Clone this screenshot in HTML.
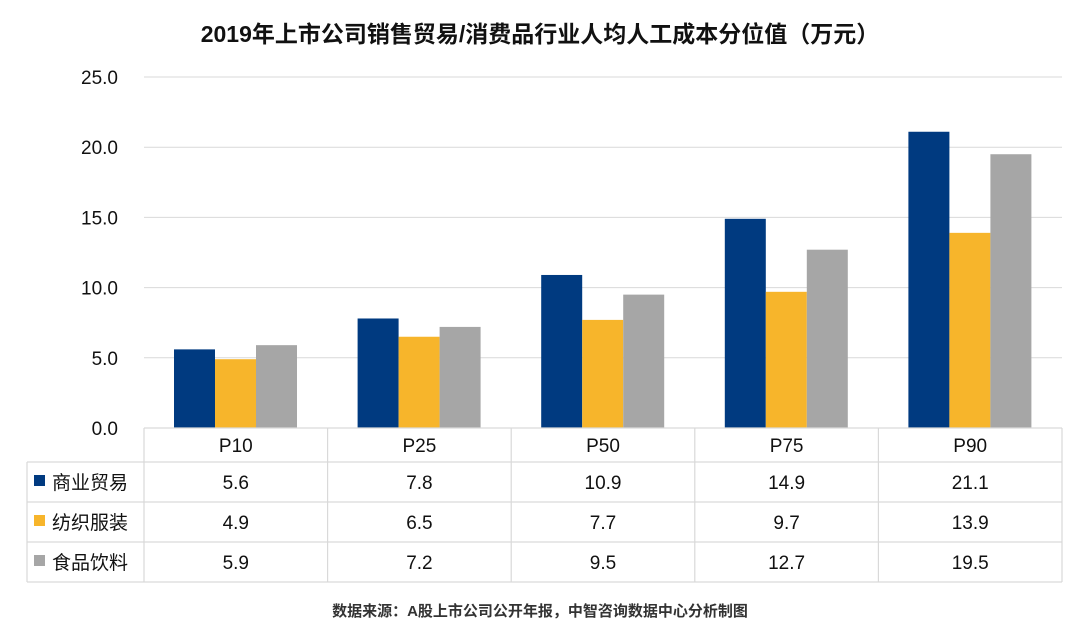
<!DOCTYPE html>
<html><head><meta charset="utf-8"><style>
body{margin:0;background:#fff;}
svg text{font-family:"Liberation Sans","Noto Sans CJK SC",sans-serif;}
</style></head><body>
<svg width="1080" height="635" viewBox="0 0 1080 635">
<text x="540" y="42" text-anchor="middle" font-size="23" font-weight="bold" fill="#111">2019年上市公司销售贸易/消费品行业人均人工成本分位值（万元）</text>
<g id="grid"></g><g id="bars"></g><g id="table"></g>
<text x="540" y="616" text-anchor="middle" font-size="15" font-weight="bold" fill="#333">数据来源：A股上市公司公开年报，中智咨询数据中心分析制图</text>
</svg>
<script>
const categories=["P10","P25","P50","P75","P90"];
const seriesNames=["商业贸易","纺织服装","食品饮料"];
const trade=[5.6,7.8,10.9,14.9,21.1];
const textile=[4.9,6.5,7.7,9.7,13.9];
const food=[5.9,7.2,9.5,12.7,19.5];
const ticks=[0,5,10,15,20,25];
const colors=["#003a80","#f7b52b","#a6a6a6"];
const series=[trade,textile,food];
const NS="http://www.w3.org/2000/svg";
const x0=144,x1=1062,y0=428,y1=77,ymax=25;
const cw=(x1-x0)/categories.length;
const yS=v=>y0-(v/ymax)*(y0-y1);
function mk(t,a,p){const e=document.createElementNS(NS,t);for(const k in a)e.setAttribute(k,a[k]);p.appendChild(e);return e;}
const g=document.getElementById('grid'),b=document.getElementById('bars'),tb=document.getElementById('table');
ticks.forEach(t=>{
 const l=mk('line',{x1:x0,x2:x1,y1:yS(t),y2:yS(t),stroke:'#d9d9d9','stroke-width':1},g);
 
 
 const tx=mk('text',{x:118,y:yS(t)+7,'text-anchor':'end','font-size':19,fill:'#111'},g);
 tx.textContent=t.toFixed(1);
 
 
});
series.forEach((s,si)=>{
 s.forEach((v,ci)=>{
  const r=mk('rect',{x:x0+ci*cw+30+si*41,y:yS(v),width:41,height:y0-yS(v),fill:colors[si]},b);
  
  
 });
});
const rowY=[428,462,502,542,582];
const ln=(a,c,d,e)=>{const l=mk('line',{x1:a,y1:c,x2:d,y2:e,stroke:'#d9d9d9','stroke-width':1.2},tb);
 
 };
ln(x0,428,x1,428);
for(let i=1;i<5;i++)ln(27,rowY[i],x1,rowY[i]);
ln(27,462,27,582);
for(let c=0;c<=categories.length;c++)ln(x0+c*cw,428,x0+c*cw,582);
categories.forEach((c,ci)=>{
 const t=mk('text',{x:x0+ci*cw+cw/2,y:452,'text-anchor':'middle','font-size':19,fill:'#111'},tb);
 t.textContent=c;
 
 
});
series.forEach((s,si)=>{
 const cy=(rowY[si+1]+rowY[si+2])/2;
 const sq=mk('rect',{x:34,y:cy-7,width:11,height:11,fill:colors[si]},tb);
 
 
 const nt=mk('text',{x:52,y:cy+7,'font-size':19,fill:'#111'},tb);
 nt.textContent=seriesNames[si];
 
 
 s.forEach((v,ci)=>{
  const t=mk('text',{x:x0+ci*cw+cw/2,y:cy+7,'text-anchor':'middle','font-size':19,fill:'#111'},tb);
  t.textContent=v.toFixed(1);
  
  
 });
});
</script>
</body></html>
